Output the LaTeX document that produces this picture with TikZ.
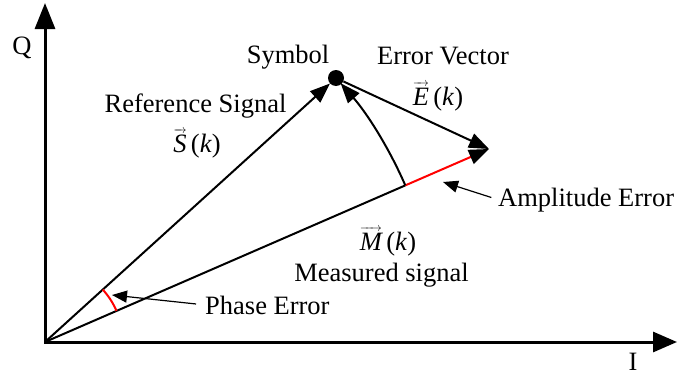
\documentclass[tikz,border=0pt]{standalone}
\usepackage{fontspec}
\setmainfont{Liberation Serif}
\usetikzlibrary{arrows.meta,calc}
\newcommand\ovarrow[1]{\setbox0\hbox{\itshape #1}\leavevmode\vbox{\offinterlineskip\hbox to \wd0{\fontsize{13}{13}\selectfont\rightarrowfill}\kern1pt\box0}}
\begin{document}
\begin{tikzpicture}[x=1pt,y=1pt,
  lab/.style={font=\fontsize{26.5}{30}\selectfont, inner sep=0pt},
  axis/.style={line width=3pt, line join=miter},
  axtip/.style={{Triangle[length=26pt,width=20pt]}-{Triangle[length=24pt,width=20pt]}},
  vec/.style={line width=2pt,-{Triangle[length=20pt,width=15pt]}},
  ann/.style={line width=1.2pt,-{Triangle[length=15pt,width=12pt]}}]
\useasboundingbox (0,0) rectangle (677,376);

% axes
\coordinate (O) at (45,34);
\coordinate (Ytip) at (45,373);
\coordinate (Xtip) at (677,34);
\draw[axis,axtip] (Ytip) -- (O) -- (Xtip);

% symbol and measured point
\node[circle,fill,inner sep=0pt,minimum size=16pt] (sym) at (336,298) {};
\coordinate (M) at (489,227);
\coordinate (A) at ($(O)!392.9pt!(M)$);

% vectors
\draw[vec] (O) -- (sym);
\draw[line width=2pt] (O) -- (A);
\draw[line width=2pt,red,-{Triangle[length=20pt,width=15pt,color=black]}] (A) -- (M);
\draw[vec] (sym) -- (M);
\draw[vec] (A) arc[start angle=23.49, end angle=41.2, radius=392.9];

% phase error arc
\draw[red,line width=2pt] ($(O)!78pt!(M)$) arc[start angle=23.49, end angle=42.21, radius=78];

% labels
\node[lab] (Q) at (22,328) {Q};
\node[lab] (I) at (633,14) {I};
\node[lab,anchor=base] (symlab) at (288,313) {Symbol};
\node[lab,anchor=base] (evlab) at (443,312) {Error Vector};
\node[lab,anchor=base] (Elab) at (438,271) {\ovarrow{E}\,(\textit{k})};
\node[lab,anchor=base] (reflab) at (195.5,264) {Reference Signal};
\node[lab,anchor=base] (Slab) at (197,224) {\ovarrow{S}\,(\textit{k})};
\node[lab,anchor=base] (Mlab) at (388,126) {\ovarrow{M}\,(\textit{k})};
\node[lab,anchor=base] (measlab) at (381.5,95) {Measured signal};
\node[lab,anchor=base west] (amplab) at (498,170) {Amplitude Error};
\node[lab,anchor=base west] (phlab) at (205,62) {Phase Error};

% annotation arrows
\coordinate (amptip) at (443,194);
\coordinate (phtip) at (112,81);
\draw[ann,shorten <=7pt] (amplab.west) -- (amptip);
\draw[ann,shorten <=9pt] (phlab.west) -- (phtip);
\end{tikzpicture}
\end{document}
